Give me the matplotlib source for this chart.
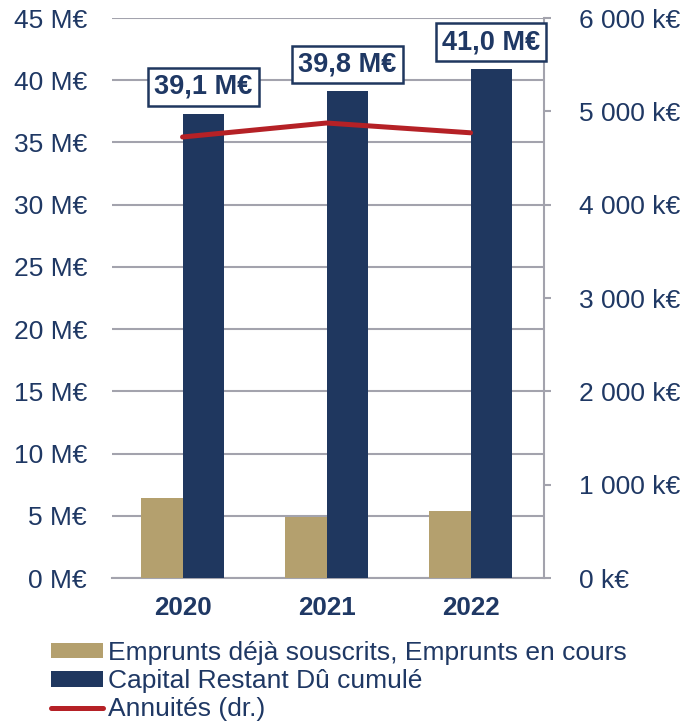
import matplotlib
matplotlib.use("Agg")
import matplotlib.pyplot as plt
import numpy as np

plt.rcParams['font.family'] = ['Liberation Sans', 'DejaVu Sans']

years = ["2020", "2021", "2022"]
emprunts_souscrits = [6.4, 4.9, 5.4]          # M€
capital_restant = [37.3, 39.1, 40.9]          # M€
annuites = [4725, 4875, 4770]                 # k€ (right axis)
box_labels = ["39,1 M€", "39,8 M€", "41,0 M€"]
left_ticks = [0, 5, 10, 15, 20, 25, 30, 35, 40, 45]
left_ticklabels = [f"{v} M€" for v in left_ticks]
right_ticks = [0, 1000, 2000, 3000, 4000, 5000, 6000]
right_ticklabels = ["0 k€", "1 000 k€", "2 000 k€", "3 000 k€", "4 000 k€", "5 000 k€", "6 000 k€"]
legend_labels = ["Emprunts déjà souscrits, Emprunts en cours", "Capital Restant Dû cumulé", "Annuités (dr.)"]

NAVY = "#1F375F"
TAN = "#B4A06E"
RED = "#B52126"
GRID = "#A3A3AD"
TEXT = "#1F3864"

W, H = 686, 721
fig = plt.figure(figsize=(W / 100, H / 100), dpi=100)
ax = fig.add_axes([112 / W, 1 - 578 / H, (544 - 112) / W, (578 - 18) / H])

x = np.arange(len(years))
bw = 0.29
b1 = ax.bar(x - bw / 2, emprunts_souscrits, bw, color=TAN, zorder=3)
b2 = ax.bar(x + bw / 2, capital_restant, bw, color=NAVY, zorder=3)

ax.set_xlim(-0.49, 2.51)
ax.set_ylim(0, 45)
ax.set_yticks(left_ticks)
ax.set_yticklabels(left_ticklabels)
ax.set_xticks(x)
ax.set_xticklabels(years, fontweight="bold", fontsize=18.7)
ax.yaxis.grid(True, color=GRID, linewidth=1.5, zorder=0)
ax.set_axisbelow(True)
for s in ["left", "top", "right"]:
    ax.spines[s].set_visible(False)
ax.spines["bottom"].set_color(GRID)
ax.spines["bottom"].set_linewidth(1.5)
ax.tick_params(axis="y", length=0, pad=18, labelsize=19, labelcolor=TEXT)
ax.tick_params(axis="x", length=0, pad=13, labelcolor=TEXT)

for xi, v, lab in zip(x, capital_restant, box_labels):
    ax.annotate(lab, xy=(xi + bw / 2, v), xytext=(0, 10), textcoords="offset points",
                ha="center", va="bottom", fontsize=19.5, fontweight="bold", color=TEXT,
                bbox=dict(boxstyle="square,pad=0.22", fc="white", ec=NAVY, lw=1.8),
                zorder=6, annotation_clip=False)

ax2 = ax.twinx()
ax2.set_ylim(0, 6000)
ax2.set_yticks(right_ticks)
ax2.set_yticklabels(right_ticklabels)
for s in ["left", "top", "bottom"]:
    ax2.spines[s].set_visible(False)
ax2.spines["right"].set_color(GRID)
ax2.spines["right"].set_linewidth(1.5)
ax2.tick_params(axis="y", length=5, width=1.5, color=GRID, direction="out", pad=20,
                labelsize=19, labelcolor=TEXT)
ax.set_zorder(ax2.get_zorder() + 1)
ax.patch.set_visible(False)
# line drawn on the front axes, using the right-axis scale
lline, = ax.plot(x, annuites, color=RED, linewidth=3.6, zorder=4,
                 transform=ax2.transData, solid_capstyle="round")

leg = fig.legend([b1, b2, lline], legend_labels, loc="upper left",
                 bbox_to_anchor=(51 / W, 1 - 641 / H), frameon=False, fontsize=19,
                 handlelength=1.97, handleheight=0.53, handletextpad=0.2,
                 labelspacing=0.16, borderpad=0, borderaxespad=0)
for t in leg.get_texts():
    t.set_color(TEXT)

fig.savefig("out.png", dpi=100)
